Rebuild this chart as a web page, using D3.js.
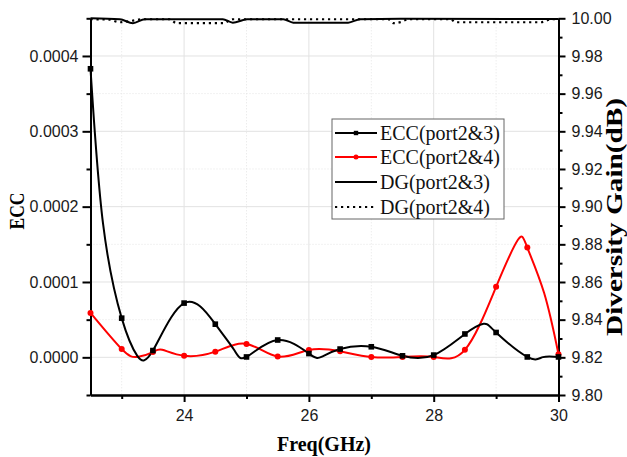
<!DOCTYPE html>
<html>
<head>
<meta charset="utf-8">
<script src="https://cdn.jsdelivr.net/npm/d3@7/dist/d3.min.js"></script>
<style>
  html, body { margin: 0; padding: 0; background: #fff; }
  svg { display: block; }
</style>
</head>
<body>
<svg id="chart" width="627" height="457"></svg>
<script>
// ECC, port 2 & 3 (GHz / value); markers sit on the 0.5 GHz points
const eccFreq23 = [22.5, 22.7, 23, 23.25, 23.5, 24, 24.5, 24.8, 25, 25.5, 26, 26.2, 26.5, 27, 27.5,
                   28, 28.5, 28.8, 29, 29.5, 29.75, 30];
const ecc23 = [0.000383, 0.000178, 0.000052, 0.000002, 0.000009, 0.000072, 0.000044, 0.000010,
               0.0000005, 0.000023, 0.000005, 0.0000005, 0.000011, 0.000014, 0.000002,
               0.000003, 0.000031, 0.0000446, 0.000033, 0.0000005, 0.0000003, 0.0000005];
// ECC, port 2 & 4
const eccFreq24 = [22.5, 23, 23.25, 23.5, 23.65, 24, 24.5, 25, 25.5, 26, 26.5, 27, 27.5, 28, 28.5, 29,
                   29.35, 29.5, 29.77, 30];
const ecc24 = [0.000059, 0.000011, 0.0000005, 0.000007, 0.0000100, 0.000002, 0.0000075, 0.0000178, 0.000001,
               0.0000098, 0.000008, 0.0000005, 0.0000005, 0.0000005, 0.000010, 0.0000936,
               0.000156, 0.0001457, 0.0000853, 0.000004];

// Diversity gain (dB), sampled at its own frequencies
const dg23Freq = [22.5, 22.97, 23.18, 23.37, 24.62, 24.78, 25.01, 25.59, 25.75, 26.63, 26.82, 27.47, 30];
const dg23 = [10.0, 9.9995, 9.9974, 9.9995, 9.9995, 9.9977, 9.9995, 9.9995, 9.9977, 9.9977, 9.9995, 9.9998, 9.9996];
const dg24Freq = [22.5, 22.8, 22.97, 23.13, 23.34, 23.77, 23.88, 24.62, 24.78, 27.27, 27.36, 27.47,
                  27.6, 28.27, 28.35, 29.72, 29.88, 30];
const dg24 = [9.9995, 9.9993, 9.9979, 9.9985, 9.9995, 9.9995, 9.9974, 9.9974, 9.9995, 9.9995, 9.9974, 9.998,
              9.9995, 9.9995, 9.9979, 9.9979, 9.9995, 9.9996];

// Axis ticks
const xMajor = [24, 26, 28, 30];
const xMinor = [23, 25, 27, 29];
const yLeftMajor = [0, 0.0001, 0.0002, 0.0003, 0.0004];
const yLeftMinor = [-0.00005, 0.00005, 0.00015, 0.00025, 0.00035, 0.00045];
const yRightMajor = [9.80, 9.82, 9.84, 9.86, 9.88, 9.90, 9.92, 9.94, 9.96, 9.98, 10.00];
const yRightMinor = [9.81, 9.83, 9.85, 9.87, 9.89, 9.91, 9.93, 9.95, 9.97, 9.99];

const legendLabels = ["ECC(port2&3)", "ECC(port2&4)", "DG(port2&3)", "DG(port2&4)"];

const svg = d3.select("#chart");
const plotL = 90.5, plotR = 558.5, plotT = 18.3, plotB = 395;

const x = d3.scaleLinear().domain([22.5, 30]).range([plotL, plotR]);
const yL = d3.scaleLinear().domain([-0.00005, 0.00045]).range([plotB, plotT]);
const yR = d3.scaleLinear().domain([9.8, 10.0]).range([plotB, plotT]);

const sansFont = "'Liberation Sans', Arial, sans-serif";
const serifFont = "'Liberation Serif', 'Times New Roman', serif";

// Grid
const grid = svg.append("g");
grid.selectAll(".gxM").data(xMajor.filter(d => d < 30)).enter().append("line")
  .attr("x1", d => x(d)).attr("x2", d => x(d)).attr("y1", plotT).attr("y2", plotB)
  .attr("stroke", "#e2e2e2").attr("stroke-width", 1);
grid.selectAll(".gxm").data(xMinor).enter().append("line")
  .attr("x1", d => x(d)).attr("x2", d => x(d)).attr("y1", plotT).attr("y2", plotB)
  .attr("stroke", "#e4e4e4").attr("stroke-width", 1).attr("stroke-dasharray", "1,2");
grid.selectAll(".gyM").data(yLeftMajor).enter().append("line")
  .attr("x1", plotL).attr("x2", plotR).attr("y1", d => yL(d)).attr("y2", d => yL(d))
  .attr("stroke", "#e2e2e2").attr("stroke-width", 1);
grid.selectAll(".gym").data(yLeftMinor.filter(d => d > 0 && d < 0.00045)).enter().append("line")
  .attr("x1", plotL).attr("x2", plotR).attr("y1", d => yL(d)).attr("y2", d => yL(d))
  .attr("stroke", "#e4e4e4").attr("stroke-width", 1).attr("stroke-dasharray", "1,2");

// Axes
const fmtL = d3.format(".4f");
const axL = svg.append("g").attr("transform", `translate(${plotL},0)`)
  .call(d3.axisLeft(yL).tickValues(yLeftMajor).tickFormat(fmtL).tickSize(8).tickSizeOuter(0).tickPadding(4));
const axLm = svg.append("g").attr("transform", `translate(${plotL},0)`)
  .call(d3.axisLeft(yL).tickValues(yLeftMinor).tickFormat("").tickSize(4).tickSizeOuter(0));
const axB = svg.append("g").attr("transform", `translate(0,${plotB})`)
  .call(d3.axisBottom(x).tickValues(xMajor).tickFormat(d3.format("d")).tickSize(7).tickSizeOuter(0).tickPadding(8));
const axBm = svg.append("g").attr("transform", `translate(0,${plotB})`)
  .call(d3.axisBottom(x).tickValues(xMinor).tickFormat("").tickSize(4).tickSizeOuter(0));
const axR = svg.append("g").attr("transform", `translate(${plotR},0)`)
  .call(d3.axisRight(yR).tickValues(yRightMajor).tickFormat(d3.format(".2f")).tickSize(7).tickSizeOuter(0).tickPadding(6));
const axRm = svg.append("g").attr("transform", `translate(${plotR},0)`)
  .call(d3.axisRight(yR).tickValues(yRightMinor).tickFormat("").tickSize(4).tickSizeOuter(0));

[axL, axLm, axB, axBm, axR, axRm].forEach(g => {
  g.select(".domain").attr("stroke", "#000").attr("stroke-width", 2);
  g.selectAll(".tick line").attr("stroke", "#000").attr("stroke-width", 2);
  g.selectAll(".tick text").attr("font-family", sansFont).attr("font-size", 16).attr("fill", "#1a1a1a");
});

// Series lines
const line23 = d3.line().x((d, i) => x(eccFreq23[i])).y(d => yL(d)).curve(d3.curveNatural);
const line24 = d3.line().x((d, i) => x(eccFreq24[i])).y(d => yL(d)).curve(d3.curveNatural);
const dgLine23 = d3.line().x((d, i) => x(dg23Freq[i])).y(d => yR(d)).curve(d3.curveMonotoneX);
const dgLine24 = d3.line().x((d, i) => x(dg24Freq[i])).y(d => yR(d)).curve(d3.curveMonotoneX);

svg.append("path").datum(dg24).attr("d", dgLine24).attr("fill", "none")
  .attr("stroke", "#000").attr("stroke-width", 2.2).attr("stroke-dasharray", "2.2,3.8");
svg.append("path").datum(dg23).attr("d", dgLine23).attr("fill", "none")
  .attr("stroke", "#000").attr("stroke-width", 2);

svg.append("path").datum(ecc24).attr("d", line24).attr("fill", "none")
  .attr("stroke", "#ff0000").attr("stroke-width", 2);
svg.append("path").datum(ecc23).attr("d", line23).attr("fill", "none")
  .attr("stroke", "#000").attr("stroke-width", 2);

// Markers on the 0.5 GHz sweep points
const onGrid = f => Math.abs(f * 2 - Math.round(f * 2)) < 1e-9;
const pts24 = ecc24.map((v, i) => [eccFreq24[i], v]).filter(p => onGrid(p[0]));
const pts23 = ecc23.map((v, i) => [eccFreq23[i], v]).filter(p => onGrid(p[0]));
svg.selectAll(".m24").data(pts24).enter().append("circle")
  .attr("cx", d => x(d[0])).attr("cy", d => yL(d[1])).attr("r", 3)
  .attr("fill", "#ff0000");
svg.selectAll(".m23").data(pts23).enter().append("rect")
  .attr("x", d => x(d[0]) - 2.8).attr("y", d => yL(d[1]) - 2.8)
  .attr("width", 5.6).attr("height", 5.6).attr("fill", "#000");

// Axis titles
svg.append("text").attr("x", 324).attr("y", 451).attr("text-anchor", "middle")
  .attr("font-family", serifFont).attr("font-weight", "bold").attr("font-size", 21)
  .attr("textLength", 94).attr("lengthAdjust", "spacingAndGlyphs")
  .text("Freq(GHz)");
svg.append("text").attr("transform", "translate(23.5,211) rotate(-90)").attr("text-anchor", "middle")
  .attr("font-family", serifFont).attr("font-weight", "bold").attr("font-size", 22)
  .attr("textLength", 37).attr("lengthAdjust", "spacingAndGlyphs")
  .text("ECC");
svg.append("text").attr("transform", "translate(621.5,217) rotate(-90)").attr("text-anchor", "middle")
  .attr("font-family", serifFont).attr("font-weight", "bold").attr("font-size", 24)
  .attr("textLength", 238).attr("lengthAdjust", "spacingAndGlyphs")
  .text("Diversity Gain(dB)");

// Legend
const lg = svg.append("g");
lg.append("rect").attr("x", 332).attr("y", 119).attr("width", 172).attr("height", 100)
  .attr("fill", "#fff").attr("stroke", "#666").attr("stroke-width", 1);
const rowY = [133, 157, 182, 207];
const styles = [
  { color: "#000", dash: null, marker: "square" },
  { color: "#ff0000", dash: null, marker: "circle" },
  { color: "#000", dash: null, marker: null },
  { color: "#000", dash: "2.2,3.8", marker: null }
];
legendLabels.forEach((lab, i) => {
  const s = styles[i];
  lg.append("line").attr("x1", 335).attr("x2", 377).attr("y1", rowY[i]).attr("y2", rowY[i])
    .attr("stroke", s.color).attr("stroke-width", 2).attr("stroke-dasharray", s.dash);
  if (s.marker === "square") {
    lg.append("rect").attr("x", 356 - 2.2).attr("y", rowY[i] - 2.2).attr("width", 4.4).attr("height", 4.4).attr("fill", s.color);
  } else if (s.marker === "circle") {
    lg.append("circle").attr("cx", 356).attr("cy", rowY[i]).attr("r", 2.5).attr("fill", s.color);
  }
  lg.append("text").attr("x", 380).attr("y", rowY[i] + 6.5)
    .attr("font-family", serifFont).attr("font-size", 20).attr("fill", "#111").text(lab);
});
</script>
</body>
</html>
